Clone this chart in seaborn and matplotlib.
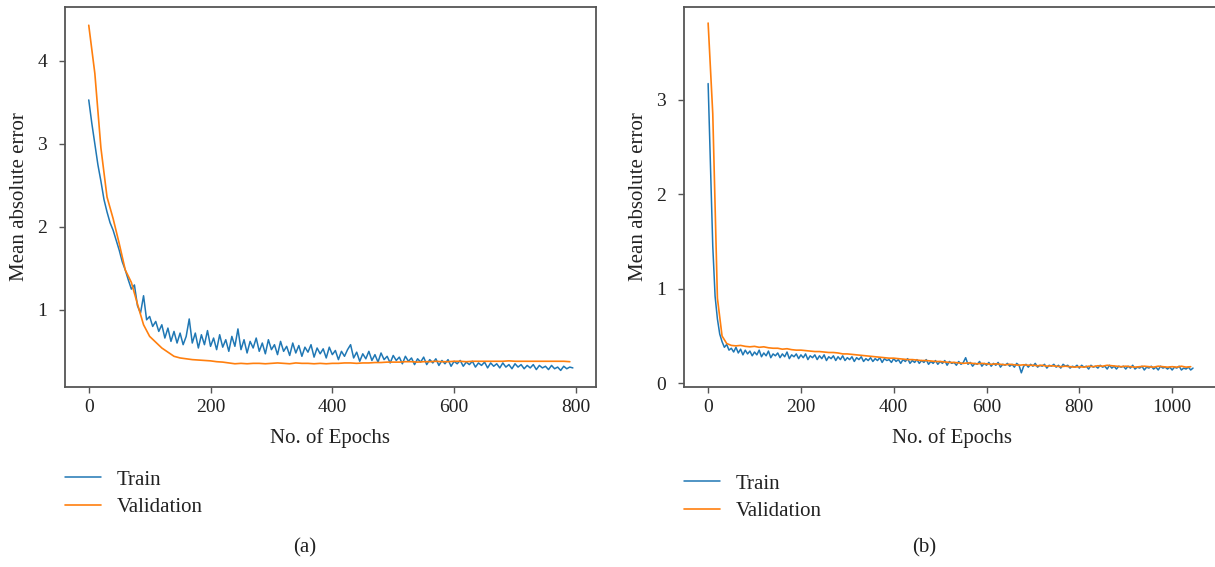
import numpy as np
import pandas as pd
import seaborn as sns
import matplotlib.pyplot as plt
from matplotlib.ticker import MultipleLocator

# (a) training run, 800 epochs, train sampled every 5 epochs, validation every 10
train_a = [
    3.53, 3.25, 3.00, 2.75, 2.55, 2.33, 2.18, 2.05, 1.96, 1.84,
    1.72, 1.58, 1.48, 1.36, 1.25, 1.30, 1.05, 0.96, 1.17, 0.88,
    0.92, 0.80, 0.86, 0.74, 0.82, 0.66, 0.78, 0.62, 0.74, 0.60,
    0.72, 0.58, 0.68, 0.89, 0.60, 0.72, 0.54, 0.70, 0.58, 0.75,
    0.56, 0.66, 0.52, 0.70, 0.55, 0.64, 0.50, 0.68, 0.56, 0.77,
    0.52, 0.64, 0.48, 0.62, 0.54, 0.66, 0.50, 0.60, 0.47, 0.64,
    0.52, 0.58, 0.46, 0.62, 0.50, 0.56, 0.45, 0.60, 0.48, 0.57,
    0.44, 0.55, 0.49, 0.58, 0.43, 0.54, 0.47, 0.53, 0.42, 0.55,
    0.46, 0.51, 0.40, 0.50, 0.44, 0.52, 0.58, 0.42, 0.49, 0.38,
    0.47, 0.41, 0.50, 0.39, 0.46, 0.37, 0.48, 0.40, 0.44, 0.36,
    0.45, 0.39, 0.43, 0.35, 0.44, 0.38, 0.42, 0.34, 0.41, 0.37,
    0.43, 0.34, 0.40, 0.36, 0.41, 0.33, 0.39, 0.35, 0.40, 0.32,
    0.38, 0.35, 0.39, 0.32, 0.37, 0.34, 0.38, 0.31, 0.36, 0.33,
    0.37, 0.30, 0.36, 0.32, 0.35, 0.30, 0.36, 0.31, 0.34, 0.29,
    0.35, 0.31, 0.34, 0.29, 0.33, 0.30, 0.34, 0.28, 0.33, 0.30,
    0.32, 0.28, 0.33, 0.29, 0.31, 0.27, 0.32, 0.29, 0.31, 0.30,
]
val_a = [
    4.43, 3.85, 2.95, 2.36, 2.10, 1.80, 1.48, 1.33, 1.07, 0.82,
    0.68, 0.61, 0.54, 0.49, 0.44, 0.42, 0.41, 0.40, 0.395, 0.39,
    0.385, 0.375, 0.37, 0.36, 0.35, 0.355, 0.35, 0.355, 0.355, 0.35,
    0.355, 0.36, 0.355, 0.35, 0.36, 0.355, 0.355, 0.35, 0.355, 0.35,
    0.355, 0.355, 0.36, 0.36, 0.355, 0.36, 0.36, 0.365, 0.365, 0.37,
    0.37, 0.37, 0.375, 0.375, 0.37, 0.375, 0.375, 0.38, 0.375, 0.375,
    0.38, 0.38, 0.375, 0.38, 0.38, 0.38, 0.38, 0.38, 0.38, 0.385,
    0.38, 0.38, 0.38, 0.38, 0.38, 0.38, 0.38, 0.38, 0.38, 0.375,
]
epochs_train_a = np.arange(0, 800, 5)
epochs_val_a = np.arange(0, 800, 10)

# (b) training run, 1050 epochs
train_b = [
    3.17, 2.30, 1.45, 0.92, 0.68, 0.52, 0.44, 0.38, 0.41, 0.35,
    0.37, 0.33, 0.38, 0.32, 0.36, 0.30, 0.35, 0.31, 0.34, 0.29,
    0.33, 0.30, 0.35, 0.28, 0.32, 0.29, 0.34, 0.27, 0.31, 0.29,
    0.32, 0.27, 0.31, 0.28, 0.33, 0.26, 0.30, 0.28, 0.31, 0.26,
    0.30, 0.27, 0.31, 0.25, 0.29, 0.27, 0.30, 0.25, 0.29, 0.26,
    0.30, 0.24, 0.28, 0.26, 0.29, 0.24, 0.28, 0.25, 0.29, 0.24,
    0.27, 0.25, 0.28, 0.23, 0.27, 0.25, 0.28, 0.23, 0.26, 0.24,
    0.27, 0.23, 0.26, 0.24, 0.27, 0.22, 0.26, 0.24, 0.25, 0.22,
    0.26, 0.23, 0.25, 0.21, 0.25, 0.23, 0.26, 0.21, 0.24, 0.22,
    0.25, 0.21, 0.24, 0.22, 0.25, 0.20, 0.23, 0.21, 0.24, 0.20,
    0.23, 0.21, 0.24, 0.19, 0.23, 0.21, 0.22, 0.19, 0.23, 0.20,
    0.22, 0.27, 0.20, 0.22, 0.18, 0.21, 0.20, 0.23, 0.18, 0.21,
    0.19, 0.22, 0.18, 0.21, 0.19, 0.22, 0.17, 0.20, 0.19, 0.21,
    0.18, 0.20, 0.17, 0.21, 0.19, 0.11, 0.18, 0.20, 0.17, 0.20,
    0.18, 0.21, 0.17, 0.19, 0.18, 0.20, 0.16, 0.19, 0.18, 0.20,
    0.17, 0.19, 0.16, 0.20, 0.18, 0.19, 0.16, 0.18, 0.17, 0.19,
    0.16, 0.19, 0.17, 0.18, 0.15, 0.19, 0.17, 0.18, 0.16, 0.19,
    0.17, 0.18, 0.15, 0.19, 0.16, 0.18, 0.15, 0.18, 0.17, 0.18,
    0.15, 0.18, 0.16, 0.19, 0.15, 0.17, 0.16, 0.18, 0.14, 0.17,
    0.16, 0.18, 0.15, 0.17, 0.14, 0.18, 0.16, 0.17, 0.15, 0.17,
    0.14, 0.17, 0.16, 0.18, 0.14, 0.16, 0.15, 0.17, 0.14, 0.16,
]
val_b = [
    3.81, 2.85, 0.90, 0.50, 0.42, 0.40, 0.395, 0.40, 0.39, 0.385,
    0.39, 0.38, 0.385, 0.375, 0.37, 0.37, 0.36, 0.365, 0.355, 0.35,
    0.35, 0.345, 0.34, 0.335, 0.335, 0.33, 0.325, 0.325, 0.32, 0.31,
    0.31, 0.305, 0.30, 0.295, 0.29, 0.285, 0.28, 0.275, 0.27, 0.265,
    0.265, 0.26, 0.255, 0.25, 0.25, 0.245, 0.24, 0.24, 0.235, 0.23,
    0.23, 0.225, 0.22, 0.22, 0.215, 0.21, 0.215, 0.21, 0.205, 0.21,
    0.205, 0.20, 0.205, 0.20, 0.195, 0.20, 0.195, 0.19, 0.195, 0.19,
    0.19, 0.185, 0.19, 0.18, 0.185, 0.18, 0.175, 0.18, 0.175, 0.17,
    0.175, 0.17, 0.18, 0.175, 0.185, 0.18, 0.19, 0.185, 0.18, 0.175,
    0.18, 0.175, 0.17, 0.175, 0.18, 0.175, 0.17, 0.18, 0.175, 0.17,
    0.175, 0.17, 0.18, 0.17, 0.175,
]
epochs_train_b = np.arange(0, 1050, 5)
epochs_val_b = np.arange(0, 1050, 10)

panel_labels = ["(a)", "(b)"]
series_labels = ["Train", "Validation"]

sns.set_style("ticks")
plt.rcParams["font.family"] = ["Liberation Serif", "DejaVu Serif"]
plt.rcParams["axes.edgecolor"] = "#555555"
plt.rcParams["axes.linewidth"] = 1.3
plt.rcParams["xtick.color"] = "#555555"
plt.rcParams["ytick.color"] = "#555555"
plt.rcParams["xtick.labelcolor"] = "#222222"
plt.rcParams["ytick.labelcolor"] = "#222222"
plt.rcParams["text.color"] = "#222222"
plt.rcParams["axes.labelcolor"] = "#222222"

W, H = 1215, 567
fig = plt.figure(figsize=(W / 100, H / 100), dpi=100)
ax_a = fig.add_axes([65 / W, 1 - 387 / H, (596 - 65) / W, 380 / H])
ax_b = fig.add_axes([684 / W, 1 - 387 / H, (1219 - 684) / W, 380 / H])

blue, orange = "#1f77b4", "#ff7f0e"

def draw_panel(ax, ep_t, tr, ep_v, va, xlim, ylim, legend_x, legend_top, tag, tag_x):
    sns.lineplot(x=ep_t, y=tr, ax=ax, color=blue, linewidth=1.1, label=series_labels[0])
    sns.lineplot(x=ep_v, y=va, ax=ax, color=orange, linewidth=1.2, label=series_labels[1])
    ax.set_xlim(*xlim)
    ax.set_ylim(*ylim)
    ax.xaxis.set_major_locator(MultipleLocator(200))
    ax.yaxis.set_major_locator(MultipleLocator(1))
    ax.set_xlabel("No. of Epochs", fontsize=15, labelpad=8)
    ax.set_ylabel("Mean absolute error", fontsize=15, labelpad=6)
    ax.tick_params(axis="both", labelsize=14, length=4, width=1.0)
    ax.tick_params(axis="y", pad=9)
    ax.tick_params(axis="x", pad=5)
    for s in ax.spines.values():
        s.set_visible(True)
    ax.legend(loc="upper left", bbox_to_anchor=(legend_x / W, 1 - legend_top / H),
              bbox_transform=fig.transFigure, frameon=False, fontsize=15,
              borderaxespad=0, borderpad=0, handlelength=1.75,
              handletextpad=0.75, labelspacing=0.4)
    fig.text(tag_x / W, 1 - 548 / H, tag, ha="center", va="center", fontsize=15)

draw_panel(ax_a, epochs_train_a, train_a, epochs_val_a, val_a,
           (-39, 833), (0.07, 4.65), 65, 470, panel_labels[0], 305)
draw_panel(ax_b, epochs_train_b, train_b, epochs_val_b, val_b,
           (-52, 1101), (-0.04, 3.98), 684, 474, panel_labels[1], 924)

fig.savefig("out.png", dpi=100)
